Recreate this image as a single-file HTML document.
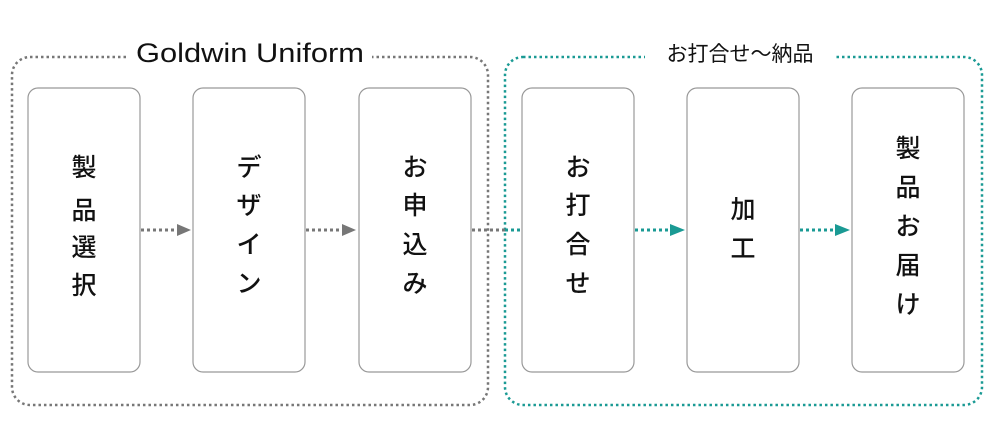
<!DOCTYPE html>
<html><head><meta charset="utf-8"><style>
html,body{margin:0;padding:0;background:#fff;width:994px;height:438px;overflow:hidden}
</style></head><body>
<svg width="994" height="438" xmlns="http://www.w3.org/2000/svg" font-family="'Liberation Sans','Noto Sans CJK JP',sans-serif">
<rect x="12" y="57" width="476" height="348" rx="18" fill="none" stroke="#777" stroke-width="2.5" stroke-dasharray="2.5 3"/>
<rect x="505" y="57" width="477" height="348" rx="18" fill="none" stroke="#1a9a94" stroke-width="2.5" stroke-dasharray="2.5 3"/>
<rect x="128" y="36" width="244" height="32" fill="#fff"/>
<rect x="645" y="36" width="190" height="32" fill="#fff"/>
<text x="250" y="62" text-anchor="middle" font-size="27" fill="#111" textLength="228" lengthAdjust="spacingAndGlyphs">Goldwin Uniform</text>
<text x="740" y="61" text-anchor="middle" font-size="21" fill="#111">お打合せ〜納品</text>
<g fill="#fff" stroke="#999" stroke-width="1.2">
<rect x="28" y="88" width="112" height="284" rx="10"/>
<rect x="193" y="88" width="112" height="284" rx="10"/>
<rect x="359" y="88" width="112" height="284" rx="10"/>
<rect x="522" y="88" width="112" height="284" rx="10"/>
<rect x="687" y="88" width="112" height="284" rx="10"/>
<rect x="852" y="88" width="112" height="284" rx="10"/>
</g>
<g stroke-width="3" stroke-dasharray="3 3">
<line x1="141" y1="230" x2="178" y2="230" stroke="#777"/>
<line x1="306" y1="230" x2="343" y2="230" stroke="#777"/>
<line x1="472" y1="230" x2="505" y2="230" stroke="#777"/>
<line x1="505" y1="230" x2="521" y2="230" stroke="#1a9a94"/>
<line x1="635" y1="230" x2="672" y2="230" stroke="#1a9a94"/>
<line x1="800" y1="230" x2="837" y2="230" stroke="#1a9a94"/>
</g>
<polygon points="177,224 191,230 177,236" fill="#777"/>
<polygon points="342,224 356,230 342,236" fill="#777"/>
<polygon points="670,224 685,230 670,236" fill="#1a9a94"/>
<polygon points="835,224 850,230 835,236" fill="#1a9a94"/>
<g font-size="25" text-anchor="middle" fill="#111" font-weight="500">
<text x="84" y="176">製</text><text x="84" y="219">品</text><text x="84" y="256">選</text><text x="84" y="294">択</text>
<text x="249" y="176">デ</text><text x="249" y="214">ザ</text><text x="249" y="253">イ</text><text x="249" y="292">ン</text>
<text x="415" y="176">お</text><text x="415" y="214">申</text><text x="415" y="253">込</text><text x="415" y="292">み</text>
<text x="578" y="176">お</text><text x="578" y="214">打</text><text x="578" y="253">合</text><text x="578" y="292">せ</text>
<text x="743" y="218">加</text><text x="743" y="257">工</text>
<text x="908" y="157">製</text><text x="908" y="196">品</text><text x="908" y="235">お</text><text x="908" y="274">届</text><text x="908" y="313">け</text>
</g>
</svg>
</body></html>
